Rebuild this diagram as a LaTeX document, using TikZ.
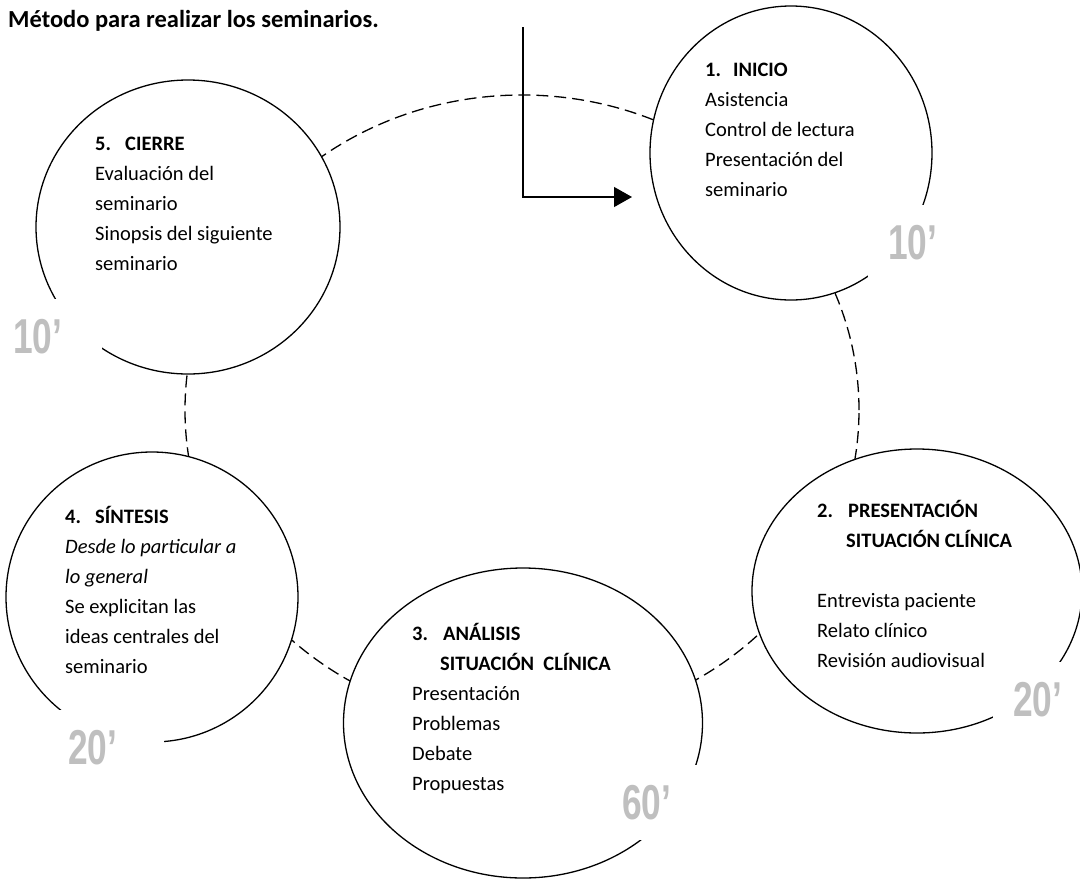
\documentclass[tikz,border=0pt]{standalone}
\usepackage{fontspec}
\setmainfont{Carlito}
\newfontfamily\numfont[FakeStretch=0.72]{Liberation Sans}
\usetikzlibrary{shapes.geometric}
\usetikzlibrary{arrows.meta}
\definecolor{mingray}{RGB}{191,191,191}

\begin{document}
\begin{tikzpicture}[x=1pt,y=-1pt,
    stage/.style={draw,ellipse,fill=white,line width=1.3pt,inner sep=0pt},
    stagetext/.style={anchor=north west,align=left,inner sep=0pt,font=\fontsize{20.5}{30}\selectfont},
    minutes/.style={anchor=north west,fill=white,text=mingray,inner ysep=20pt,
        font=\numfont\bfseries\fontsize{49}{49}\selectfont}]
    \useasboundingbox (0,0) rectangle (1080,879);

    \node[anchor=base west,inner sep=0pt,font=\bfseries\fontsize{24.5}{28}\selectfont] (title) at (8,27) {Método para realizar los seminarios.};

    % anillo discontinuo detras de las etapas
    \draw[line width=1.3pt,dash pattern=on 12pt off 6pt] (522,410) ellipse [x radius=337pt,y radius=315pt];

    \node[stage,minimum width=282pt,minimum height=294pt] (inicio) at (791,153) {};
    \node[stage,minimum width=330pt,minimum height=284pt] (presentacion) at (917,591) {};
    \node[stage,minimum width=359pt,minimum height=310pt] (analisis) at (523,723) {};
    \node[stage,minimum width=292pt,minimum height=290pt] (sintesis) at (152,597) {};
    \node[stage,minimum width=304pt,minimum height=294pt] (cierre) at (188,227) {};

    \node[stagetext] (t1) at (705,55) {\strut\makebox[28pt][l]{\bfseries 1.}\textbf{INICIO}\\Asistencia\\Control de lectura\\Presentación del\\seminario};
    \node[stagetext] (t2) at (817,496) {\strut\makebox[31pt][l]{\bfseries 2.}\textbf{PRESENTACIÓN}\\\hspace*{29pt}\textbf{SITUACIÓN CLÍNICA}\\[30pt]Entrevista paciente\\Relato clínico\\Revisión audiovisual};
    \node[stagetext] (t3) at (412,619) {\strut\makebox[31pt][l]{\bfseries 3.}\textbf{ANÁLISIS}\\\hspace*{28pt}\textbf{SITUACIÓN\ \ CLÍNICA}\\Presentación\\Problemas\\Debate\\Propuestas};
    \node[stagetext] (t4) at (65,502) {\strut\makebox[30pt][l]{\bfseries 4.}\textbf{SÍNTESIS}\\\textit{Desde lo particular a}\\\textit{lo general}\\Se explicitan las\\ideas centrales del\\seminario};
    \node[stagetext] (t5) at (95,129) {\strut\makebox[30pt][l]{\bfseries 5.}\textbf{CIERRE}\\Evaluación del\\seminario\\Sinopsis del siguiente\\seminario};

    \node[minutes,inner xsep=20pt] (m1) at (868,205) {10’};
    \node[minutes,inner xsep=20pt] (m2) at (993,662) {20’};
    \node[minutes,inner xsep=28pt] (m3) at (594,765) {60’};
    \node[minutes,inner xsep=47pt] (m4) at (21,710) {20’};
    \node[minutes,inner xsep=40pt] (m5) at (-27,299) {10’};

    \coordinate (arrowtop) at (523,27);
    \coordinate (arrowend) at (632,197);
    \draw[line width=1.3pt,-{Triangle[length=18pt,width=20pt]}] (arrowtop) |- (arrowend);
\end{tikzpicture}
\end{document}
